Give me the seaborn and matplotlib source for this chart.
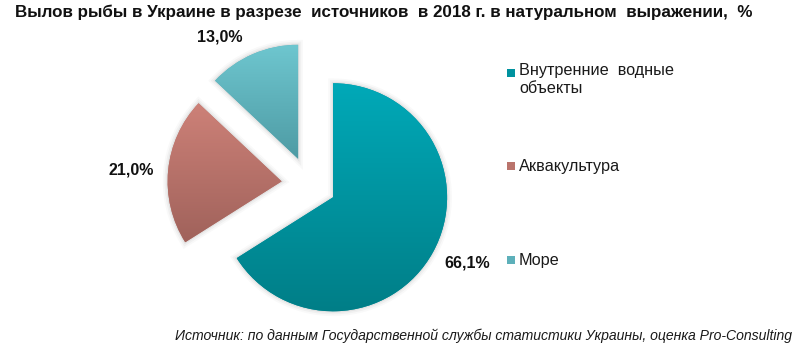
import numpy as np
import matplotlib
matplotlib.use("Agg")
import matplotlib.pyplot as plt
import matplotlib.patheffects as pe
import seaborn as sns
from matplotlib.colors import LinearSegmentedColormap

# Data
categories = ["Внутренние  водные\nобъекты", "Аквакультура", "Море"]
shares = [66.1, 21.0, 13.0]
value_labels = ["66,1%", "21,0%", "13,0%"]

# Vertical gradient colours per slice (top -> bottom) and legend swatches
top_colors = ["#00A9B8", "#CD8178", "#6EC6CF"]
bottom_colors = ["#007E87", "#A0625B", "#4E9BA4"]
swatch_colors = ["#00929F", "#BA746C", "#5DB0BA"]

title = "Вылов рыбы в Украине в разрезе  источников  в 2018 г. в натуральном  выражении,  %"
source = "Источник: по данным Государственной службы статистики Украины, оценка Pro-Consulting"

sns.set_theme(style="white")
plt.rcParams["font.family"] = ["Liberation Sans", "DejaVu Sans"]

W, H = 798, 350
fig = plt.figure(figsize=(W / 100, H / 100), dpi=100)
ax = fig.add_axes([0, 0, 1, 1])

center = (309, H - 184)
radius = 114
gap = 27.5  # slice offset from the centre, in pixels
wedges, _ = ax.pie(
    shares,
    startangle=90,
    counterclock=False,
    radius=radius,
    center=center,
    explode=[gap] * len(shares),
    colors=swatch_colors,
    wedgeprops=dict(linewidth=0),
)

# Soft halo around each slice and a vertical gradient fill clipped to it
grad = np.linspace(0, 1, 256).reshape(-1, 1)
for w, c_top, c_bot in zip(wedges, top_colors, bottom_colors):
    w.set_path_effects([
        pe.Stroke(linewidth=7, foreground="black", alpha=0.025),
        pe.Stroke(linewidth=4.5, foreground="black", alpha=0.035),
        pe.Stroke(linewidth=2, foreground="black", alpha=0.05),
        pe.Normal(),
    ])
    verts = w.get_path().vertices
    x0, x1 = verts[:, 0].min(), verts[:, 0].max()
    y0, y1 = verts[:, 1].min(), verts[:, 1].max()
    cmap = LinearSegmentedColormap.from_list("g", [c_top, c_bot])
    im = ax.imshow(grad, cmap=cmap, extent=[x0, x1, y0, y1], origin="upper",
                   aspect="auto", interpolation="bilinear", zorder=w.get_zorder() + 0.5)
    im.set_clip_path(w)

# Value labels
label_pos = [(467, H - 263), (131, H - 170), (220, H - 37)]
for (lx, ly), txt in zip(label_pos, value_labels):
    ax.text(lx, ly, txt, ha="center", va="center", fontsize=11.5,
            fontweight="bold", color="#111111")

# Legend
legend_y = [72.5, 166, 260]
for yy, lab, col in zip(legend_y, categories, swatch_colors):
    ax.scatter([511], [H - yy], marker="s", s=40, color=col, linewidths=0, zorder=5)
    if "\n" in lab:
        ax.text(519, H - yy + 9.5, lab, ha="left", va="top", fontsize=11.7,
                color="#1a1a1a", linespacing=1.25)
    else:
        ax.text(519, H - yy, lab, ha="left", va="center", fontsize=11.7, color="#1a1a1a")

# Title and source note
ax.text(15, H - 12, title, ha="left", va="center", fontsize=12.25,
        fontweight="bold", color="#111111")
ax.text(792, H - 336, source, ha="right", va="center", fontsize=10.1,
        style="italic", color="#1a1a1a")

ax.set_xlim(0, W)
ax.set_ylim(0, H)
ax.set_aspect("auto")
ax.axis("off")

fig.savefig("out.png", dpi=100, facecolor="white")
